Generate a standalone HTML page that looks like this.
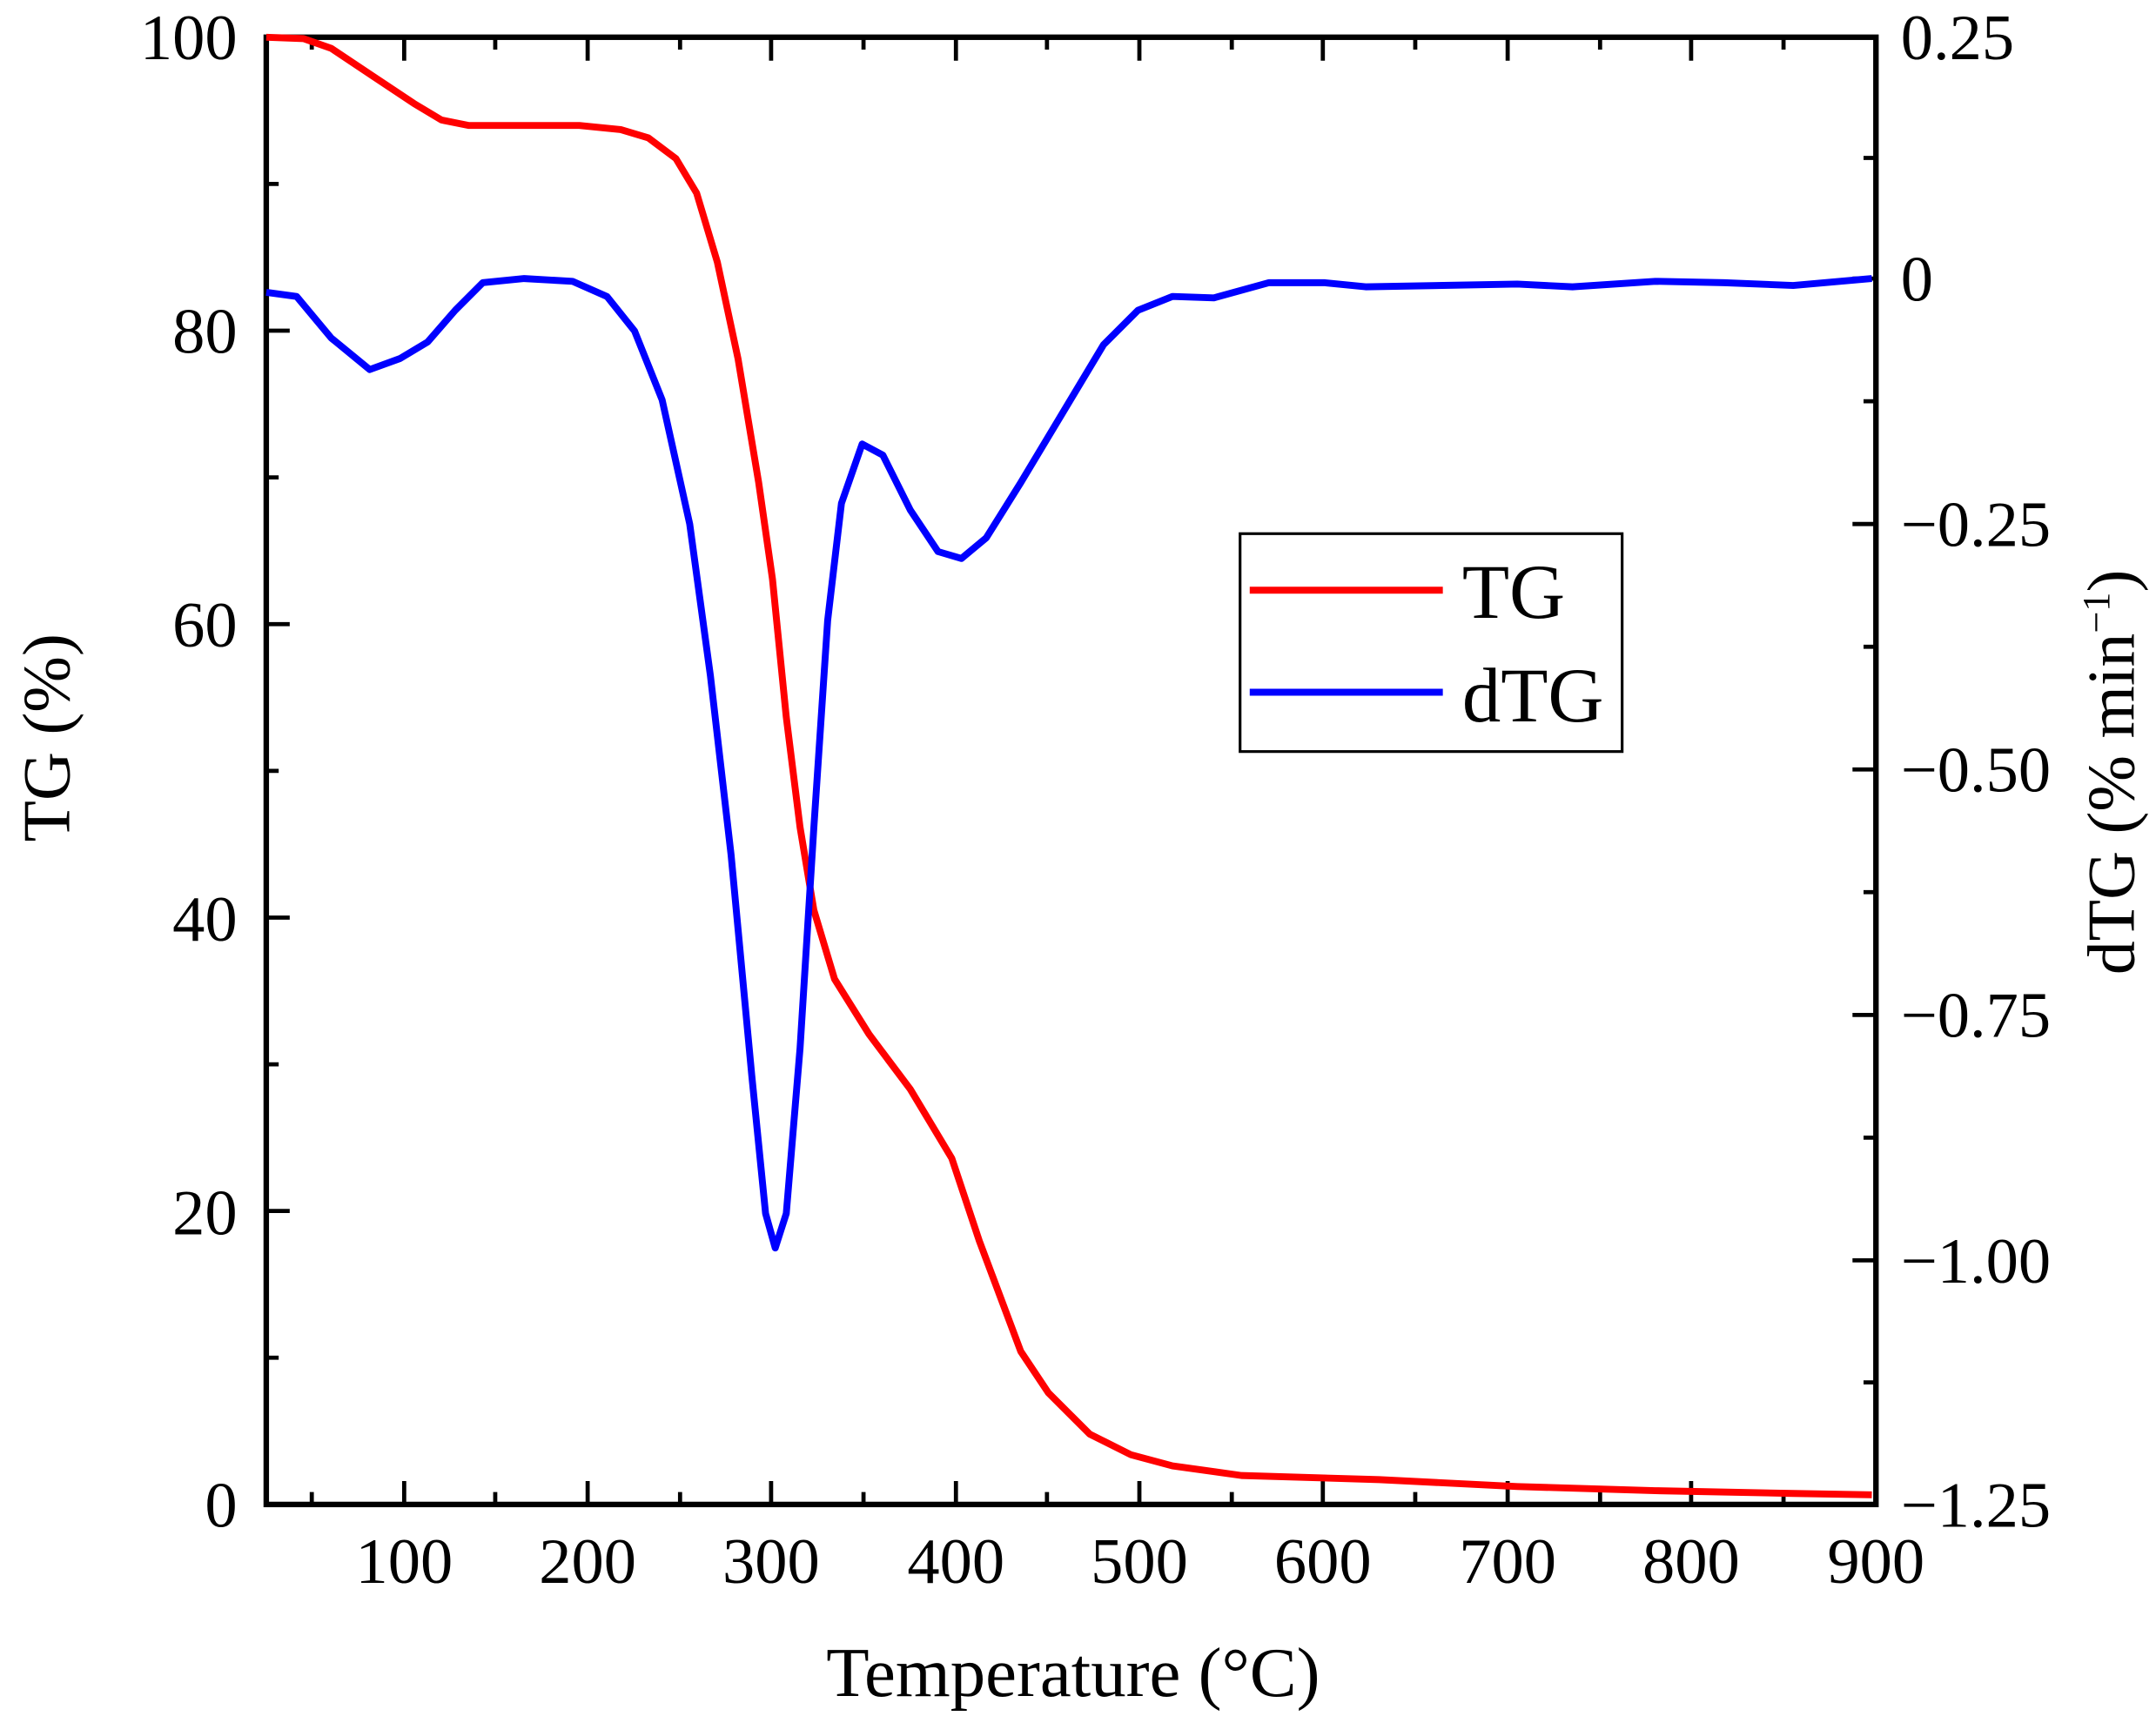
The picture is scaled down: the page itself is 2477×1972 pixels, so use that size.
<!DOCTYPE html>
<html><head><meta charset="utf-8"><style>html,body{margin:0;padding:0;background:#fff}svg{display:block}</style></head>
<body>
<svg width="2477" height="1972" viewBox="0 0 1563 1244.4" xmlns="http://www.w3.org/2000/svg" font-family="Liberation Serif, serif">
<rect width="1563" height="1244.4" fill="#fff"/>
<g stroke="#000" stroke-width="3" fill="none">
<path d="M226,1091v-9M293,1091v-17M359,1091v-9M426,1091v-17M493,1091v-9M559,1091v-17M626,1091v-9M693,1091v-17M759,1091v-9M826,1091v-17M893,1091v-9M959,1091v-17M1026,1091v-9M1093,1091v-17M1160,1091v-9M1226,1091v-17M1293,1091v-9"/>
<path d="M226,27v9M293,27v17M359,27v9M426,27v17M493,27v9M559,27v17M626,27v9M693,27v17M759,27v9M826,27v17M893,27v9M959,27v17M1026,27v9M1093,27v17M1160,27v9M1226,27v17M1293,27v9"/>
<path d="M193,984.6h9M193,878.2h17M193,771.8h9M193,665.4h17M193,559h9M193,452.6h17M193,346.2h9M193,239.8h17M193,133.4h9"/>
<path d="M1360,114.5h-9M1360,202h-17M1360,291h-9M1360,380h-17M1360,469h-9M1360,558h-17M1360,647h-9M1360,736h-17M1360,825h-9M1360,914h-17M1360,1002.5h-9"/>
<rect x="193" y="27" width="1167" height="1064" stroke-width="4"/>
</g>
<polyline fill="none" stroke="#f00" stroke-width="5" stroke-linejoin="round" points="193,27 220,28 240,35 270,55 300,75 320,87 340,91 420,91 450,94 470,100 490,115 505,140 520,190 535,260 550,350 560,420 570,520 580,600 590,660 605,710 630,750 660,790 690,840 710,900 740,980 760,1010 790,1040 820,1055 850,1063 900,1070 1000,1073 1100,1078 1200,1081 1300,1083 1357,1084"/>
<polyline fill="none" stroke="#00f" stroke-width="5" stroke-linejoin="round" points="193,212 215,215 240,245 268,268 290,260 310,248 330,225 350,205 380,202 415,204 440,215 460,240 480,290 500,380 515,490 530,620 545,780 555,880 562,905 570,880 580,760 590,600 600,450 610,365 625,322 640,330 660,370 680,400 697,405 715,390 740,350 770,300 800,250 825,225 850,215 880,216 920,205 960,205 990,208 1100,206 1140,208 1200,204 1250,205 1300,207 1357,202"/>
<g font-size="47" fill="#000">
<g text-anchor="end">
<text x="172" y="43">100</text><text x="172" y="256">80</text><text x="172" y="469">60</text><text x="172" y="682">40</text><text x="172" y="895">20</text><text x="172" y="1107">0</text>
</g>
<g text-anchor="middle">
<text x="293" y="1148">100</text><text x="426" y="1148">200</text><text x="559" y="1148">300</text><text x="693" y="1148">400</text><text x="826" y="1148">500</text><text x="959" y="1148">600</text><text x="1093" y="1148">700</text><text x="1226" y="1148">800</text><text x="1360" y="1148">900</text>
</g>
<g text-anchor="start">
<text x="1378" y="43">0.25</text><text x="1378" y="218">0</text><text x="1378" y="396">−0.25</text><text x="1378" y="574">−0.50</text><text x="1378" y="752">−0.75</text><text x="1378" y="930">−1.00</text><text x="1378" y="1107">−1.25</text>
</g>
<text x="778" y="1230" text-anchor="middle" font-size="51">Temperature (°C)</text>
<text transform="translate(50,535) rotate(-90)" text-anchor="middle" font-size="49">TG (%)</text>
<text transform="translate(1547,560) rotate(-90)" text-anchor="middle" font-size="49">dTG (% min<tspan dy="-18" font-size="28">−1</tspan><tspan dy="18">)</tspan></text>
</g>
<rect x="899" y="387" width="277" height="158" fill="#fff" stroke="#000" stroke-width="2"/>
<line x1="906" y1="428" x2="1046" y2="428" stroke="#f00" stroke-width="5"/>
<line x1="906" y1="502" x2="1046" y2="502" stroke="#00f" stroke-width="5"/>
<text x="1060" y="448" font-size="56">TG</text>
<text x="1060" y="523" font-size="56">dTG</text>
</svg>
</body></html>
